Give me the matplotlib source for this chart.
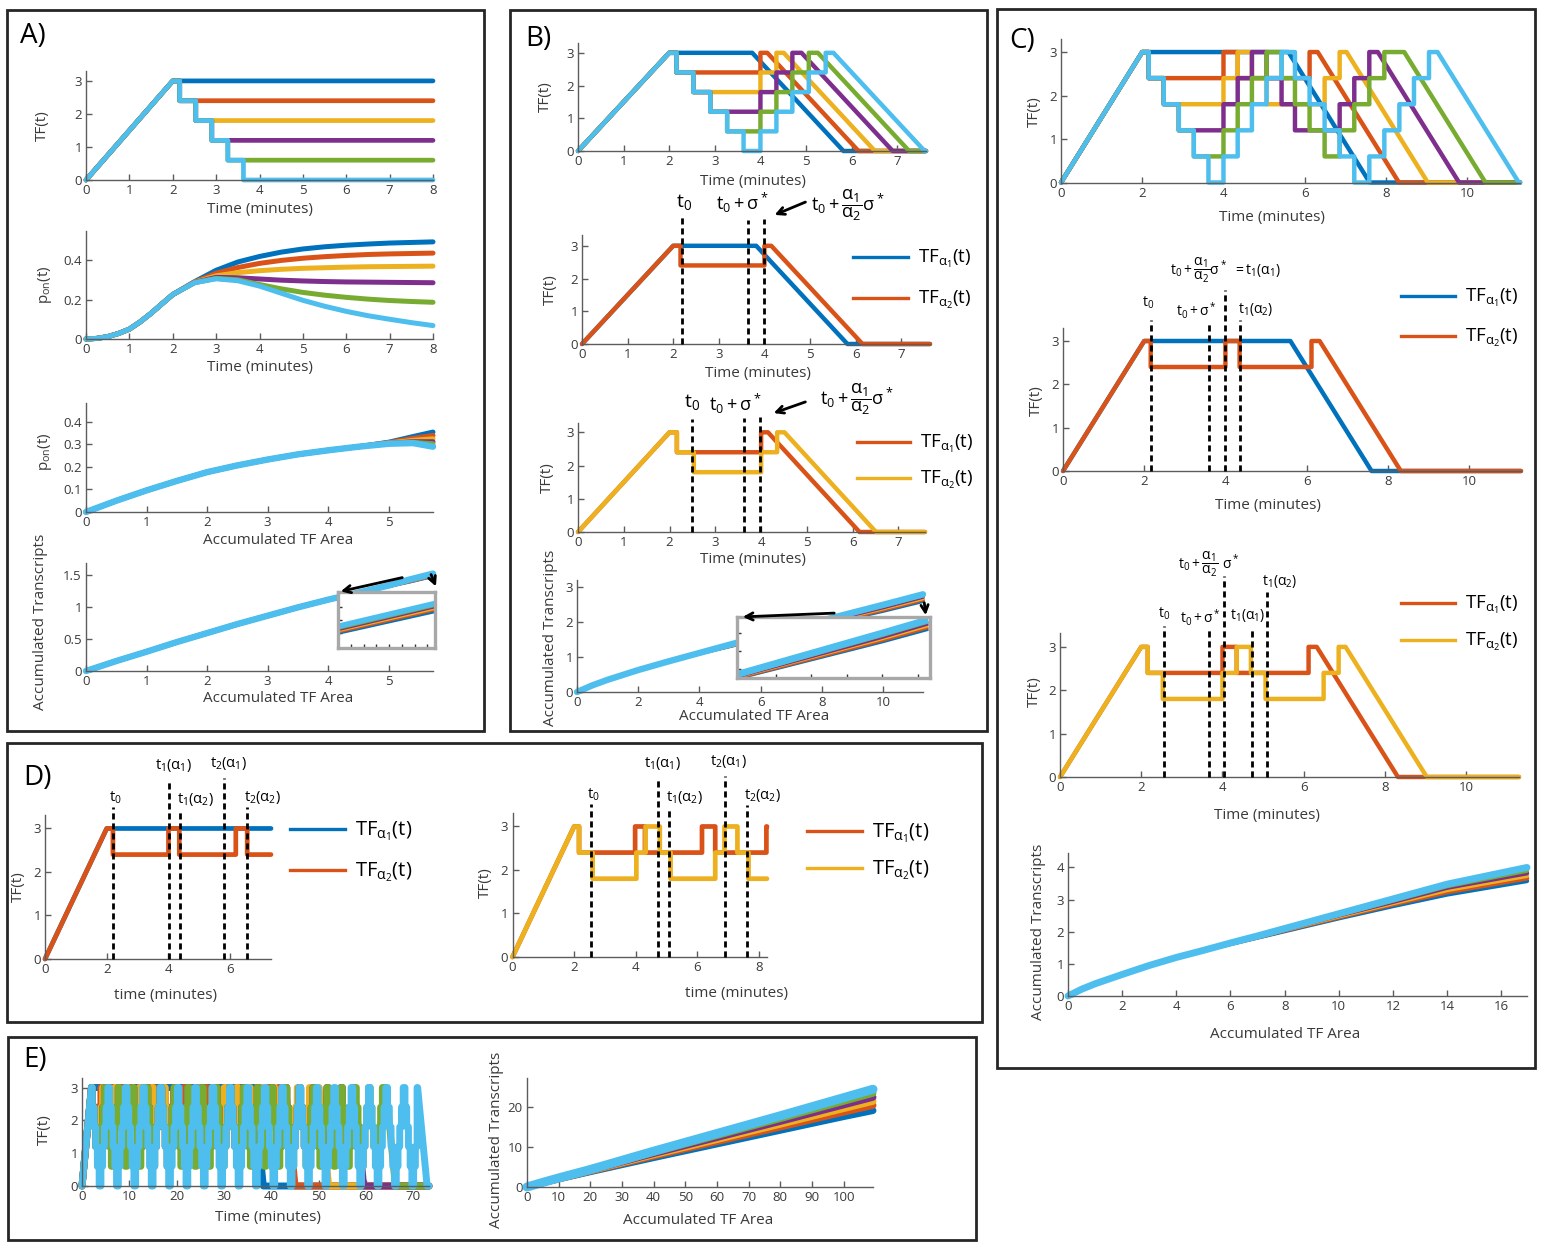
import matplotlib.pyplot as plt
from matplotlib.lines import Line2D
from matplotlib.patches import Rectangle, FancyArrowPatch
from matplotlib.ticker import FuncFormatter

plt.rcParams['font.family'] = ['Open Sans', 'DejaVu Sans']
plt.rcParams['mathtext.default'] = 'regular'

W, H = 1546, 1243
BLUE, ORANGE, YELLOW, PURPLE, GREEN, LBLUE = '#0072BD', '#D95319', '#EDB120', '#7E2F8E', '#77AC30', '#4DBEEE'
COLORS = [BLUE, ORANGE, YELLOW, PURPLE, GREEN, LBLUE]
AXC = '#5c5c5c'
TXT = '#3a3a3a'

# ---------------- data ----------------
# staircase drop times (min) and levels used by the step-down protocol
DROPS = [2.16, 2.53, 2.90, 3.27, 3.63]
LEVELS = [2.4, 1.8, 1.2, 0.6, 0.0]

# A: p_on over time
A_T = [0, 0.25, 0.5, 0.75, 1, 1.25, 1.5, 1.75, 2, 2.5, 3, 3.5, 4, 4.5, 5, 5.5, 6, 6.5, 7, 7.5, 8]
A_PON_START = [0, 0.003, 0.012, 0.028, 0.05, 0.087, 0.13, 0.178, 0.225]
A_PON = [
    [0.290, 0.348, 0.390, 0.418, 0.440, 0.456, 0.467, 0.475, 0.481, 0.486, 0.489, 0.492],
    [0.288, 0.333, 0.362, 0.383, 0.398, 0.409, 0.417, 0.423, 0.428, 0.431, 0.433, 0.435],
    [0.287, 0.320, 0.336, 0.346, 0.353, 0.358, 0.361, 0.364, 0.366, 0.367, 0.368, 0.369],
    [0.286, 0.312, 0.310, 0.304, 0.298, 0.294, 0.291, 0.289, 0.288, 0.287, 0.286, 0.285],
    [0.285, 0.307, 0.300, 0.276, 0.254, 0.236, 0.222, 0.211, 0.202, 0.195, 0.190, 0.186],
    [0.285, 0.305, 0.295, 0.268, 0.232, 0.196, 0.166, 0.140, 0.118, 0.100, 0.083, 0.068],
]

# A: p_on against accumulated TF area
A_AREA = [0, 0.5, 1, 1.5, 2, 2.5, 3, 3.5, 4, 4.5, 5, 5.4, 5.73]
A_PON_AREA_START = [0, 0.05, 0.096, 0.138, 0.177, 0.207, 0.233, 0.256, 0.274, 0.290]
A_PON_AREA_END = [
    [0.310, 0.335, 0.355],
    [0.308, 0.327, 0.340],
    [0.306, 0.318, 0.325],
    [0.305, 0.312, 0.312],
    [0.304, 0.309, 0.303],
    [0.303, 0.306, 0.290],
]

# A: accumulated transcripts against accumulated TF area
A_TR_AREA = [0, 0.5, 1, 1.5, 2, 2.5, 3, 3.5, 4, 4.5, 5, 5.35, 5.73]
A_TR_START = [0, 0.155, 0.30, 0.45, 0.59, 0.73, 0.86, 0.99, 1.11, 1.22, 1.33]
A_TR_END = [
    [1.400, 1.485],
    [1.405, 1.492],
    [1.410, 1.498],
    [1.414, 1.504],
    [1.419, 1.509],
    [1.425, 1.515],
]

# B: staircase down then up, then ramp off
B_JUMPS = [
    [],
    [2.16, 4.00],
    [2.16, 2.53, 4.00, 4.35],
    [2.16, 2.53, 2.90, 4.00, 4.35, 4.70],
    [2.16, 2.53, 2.90, 3.27, 4.00, 4.35, 4.70, 5.06],
    [2.16, 2.53, 2.90, 3.27, 3.63, 4.00, 4.35, 4.70, 5.06, 5.43],
]
B_LEVELS = [
    [],
    [2.4, 3.0],
    [2.4, 1.8, 2.4, 3.0],
    [2.4, 1.8, 1.2, 1.8, 2.4, 3.0],
    [2.4, 1.8, 1.2, 0.6, 1.2, 1.8, 2.4, 3.0],
    [2.4, 1.8, 1.2, 0.6, 0.0, 0.6, 1.2, 1.8, 2.4, 3.0],
]
B_RAMP = [3.82, 4.15, 4.51, 4.90, 5.26, 5.60]

B_TR_AREA = [0, 0.5, 1, 2, 3, 4, 6, 8, 10, 11.3]
B_TR = [
    [0, 0.19, 0.35, 0.63, 0.88, 1.10, 1.52, 1.92, 2.32, 2.60],
    [0, 0.19, 0.35, 0.63, 0.88, 1.10, 1.53, 1.94, 2.35, 2.64],
    [0, 0.19, 0.35, 0.63, 0.88, 1.11, 1.55, 1.97, 2.39, 2.68],
    [0, 0.19, 0.35, 0.63, 0.88, 1.11, 1.56, 1.99, 2.42, 2.72],
    [0, 0.19, 0.35, 0.63, 0.88, 1.12, 1.58, 2.02, 2.46, 2.76],
    [0, 0.19, 0.35, 0.63, 0.88, 1.12, 1.60, 2.05, 2.50, 2.80],
]

# C: two down/up cycles before the ramp
C_JUMPS = [
    [],
    [2.16, 4.00, 4.35, 6.12],
    [2.16, 2.53, 4.00, 4.35, 4.70, 5.06, 6.49, 6.86],
    [2.16, 2.53, 2.90, 4.00, 4.35, 4.70, 5.06, 5.43, 5.76, 6.86, 7.22, 7.59],
    [2.16, 2.53, 2.90, 3.27, 4.00, 4.35, 4.70, 5.06, 5.43, 5.76, 6.12, 6.49, 6.86, 7.22, 7.59, 7.96],
    [2.16, 2.53, 2.90, 3.27, 3.63, 4.00, 4.35, 4.70, 5.06, 5.43,
     5.76, 6.12, 6.49, 6.86, 7.22, 7.59, 7.96, 8.33, 8.69, 9.06],
]
C_LEVELS = [
    [],
    [2.4, 3.0, 2.4, 3.0],
    [2.4, 1.8, 2.4, 3.0, 2.4, 1.8, 2.4, 3.0],
    [2.4, 1.8, 1.2, 1.8, 2.4, 3.0, 2.4, 1.8, 1.2, 1.8, 2.4, 3.0],
    [2.4, 1.8, 1.2, 0.6, 1.2, 1.8, 2.4, 3.0, 2.4, 1.8, 1.2, 0.6, 1.2, 1.8, 2.4, 3.0],
    [2.4, 1.8, 1.2, 0.6, 0.0, 0.6, 1.2, 1.8, 2.4, 3.0,
     2.4, 1.8, 1.2, 0.6, 0.0, 0.6, 1.2, 1.8, 2.4, 3.0],
]
C_RAMP = [5.60, 6.32, 7.03, 7.80, 8.45, 9.27]

C_TR_AREA = [0, 0.5, 1, 2, 3, 4, 5, 6, 7, 8, 10, 12, 14, 16.95]
C_TR_START = [0, 0.21, 0.38, 0.67, 0.95, 1.20, 1.42]
C_TR_END = [
    [1.62, 1.82, 2.02, 2.42, 2.80, 3.16, 3.58],
    [1.63, 1.83, 2.04, 2.45, 2.85, 3.23, 3.66],
    [1.63, 1.84, 2.06, 2.48, 2.89, 3.30, 3.74],
    [1.64, 1.85, 2.07, 2.51, 2.93, 3.37, 3.82],
    [1.64, 1.86, 2.08, 2.53, 2.97, 3.42, 3.90],
    [1.65, 1.87, 2.10, 2.56, 3.02, 3.48, 4.00],
]

# D: repeated pulses, no ramp-off
D1_JUMPS = [[], [2.20, 4.00, 4.35, 6.18, 6.55]]
D1_LEVELS = [[], [2.4, 3.0, 2.4, 3.0, 2.4]]
D2_JUMPS = [[2.16, 3.98, 4.30, 6.15, 6.58, 8.24],
            [2.16, 2.60, 4.02, 4.32, 4.78, 5.13, 6.58, 6.88, 7.30, 7.66]]
D2_LEVELS = [[2.4, 3.0, 2.4, 3.0, 2.4, 3.0],
             [2.4, 1.8, 2.4, 3.0, 2.4, 1.8, 2.4, 3.0, 2.4, 1.8]]

# E: long repeated cycles (one cycle of levels per series) and ramp-off start
E_STEP = 0.367
E_CYCLES = [
    [3.0],
    [2.4, 2.4, 2.4, 2.4, 2.4, 3.0],
    [2.4, 1.8, 1.8, 1.8, 1.8, 2.4, 3.0],
    [2.4, 1.8, 1.2, 1.2, 1.2, 1.8, 2.4, 3.0],
    [2.4, 1.8, 1.2, 0.6, 1.2, 1.8, 2.4, 3.0],
    [2.4, 1.8, 1.2, 0.6, 0.0, 0.6, 1.2, 1.8, 2.4, 3.0],
]
E_RAMP = [36.3, 43.0, 50.1, 57.5, 64.2, 70.9]

E_TR_AREA = [0, 5, 10, 20, 40, 60, 80, 100, 109.3]
E_TR = [
    [0, 1.05, 2.00, 3.80, 7.3, 10.7, 14.1, 17.5, 19.0],
    [0, 1.07, 2.05, 3.95, 7.7, 11.3, 14.9, 18.6, 20.3],
    [0, 1.09, 2.10, 4.05, 8.0, 11.8, 15.6, 19.5, 21.3],
    [0, 1.11, 2.15, 4.15, 8.3, 12.3, 16.3, 20.4, 22.3],
    [0, 1.13, 2.20, 4.25, 8.6, 12.8, 17.0, 21.3, 23.3],
    [0, 1.15, 2.25, 4.35, 8.9, 13.3, 17.7, 22.2, 24.3],
]

# marker lines: positions and heights
B2_MARKS, B2_TOPS = [2.19, 3.65, 3.99], [3.98, 3.80, 3.83]
B3_MARKS, B3_TOPS = [2.49, 3.62, 3.98], [3.40, 3.43, 3.46]
C2_MARKS, C2_TOPS = [2.17, 3.60, 4.00, 4.37], [3.48, 3.40, 4.17, 3.49]
C3_MARKS, C3_TOPS = [2.56, 3.68, 4.04, 4.73, 5.09], [3.48, 3.41, 4.63, 3.44, 4.27]
D1_MARKS, D1_TOPS = [2.19, 4.01, 4.38, 5.81, 6.54], [3.50, 4.11, 3.42, 4.15, 3.50]
D2_MARKS, D2_TOPS = [2.54, 4.72, 5.08, 6.90, 7.62], [3.52, 4.13, 3.44, 4.17, 3.49]


def stair_trace(jumps, levels, ramp, t_max):
    t, y = [0.0, 2.0], [0.0, 3.0]
    for tj, lv in zip(jumps, levels):
        t += [tj, tj]
        y += [y[-1], lv]
    if ramp is None:
        t.append(t_max)
        y.append(y[-1])
    else:
        t += [ramp, ramp + 2.0, t_max]
        y += [3.0, 0.0, 0.0]
    return t, y


def cycle_trace(cycle, ramp, t_max):
    # repeat the cycle from the first drop until the ramp-off starts
    t, y = [0.0, 2.0], [0.0, 3.0]
    tk, i, n = DROPS[0], 0, len(cycle)
    while tk + E_STEP <= ramp:
        lv = cycle[i % n]
        t += [tk, tk, tk + E_STEP]
        y += [y[-1], lv, lv]
        tk += E_STEP
        i += 1
    t += [tk, tk, ramp, ramp + 2.0, t_max]
    y += [y[-1], 3.0, 3.0, 0.0, 0.0]
    return t, y


# ---------------- figure helpers ----------------
fig = plt.figure(figsize=(W / 100, H / 100), dpi=100)
fmt = FuncFormatter(lambda v, _: f'{v:g}')


def fx(x):
    return x / W


def fy(y):
    return 1 - y / H


def place(box, xlim, ylim, xticks, yticks, size=9.5):
    l, t, r, b = box
    ax = fig.add_axes([fx(l), fy(b), (r - l) / W, (b - t) / H])
    ax.set_xlim(xlim)
    ax.set_ylim(ylim)
    ax.set_xticks(xticks)
    ax.set_yticks(yticks)
    ax.xaxis.set_major_formatter(fmt)
    ax.yaxis.set_major_formatter(fmt)
    for s in ('top', 'right'):
        ax.spines[s].set_visible(False)
    for s in ('left', 'bottom'):
        ax.spines[s].set_color(AXC)
        ax.spines[s].set_linewidth(1.0)
    ax.tick_params(direction='in', length=4, width=1, color=AXC, labelcolor=TXT, labelsize=size, pad=3)
    ax.patch.set_visible(False)
    return ax


def labels(ax, box, xl, xl_y, yl, yl_x, xl_x=None, yl_y=None, size=11):
    l, t, r, b = box
    ax.set_xlabel(xl, fontsize=size, color=TXT, va='center')
    ax.xaxis.set_label_coords(((xl_x or (l + r) / 2) - l) / (r - l), (b - xl_y) / (b - t))
    ax.set_ylabel(yl, fontsize=size, color=TXT, va='center', ha='center')
    ax.yaxis.set_label_coords((yl_x - l) / (r - l), (b - (yl_y or (t + b) / 2)) / (b - t))


def ptext(x, y, s, size=11, ha='center', va='center', color='k'):
    fig.text(fx(x), fy(y), s, fontsize=size, ha=ha, va=va, color=color)


def arrow(x0, y0, x1, y1):
    fig.add_artist(FancyArrowPatch((fx(x0), fy(y0)), (fx(x1), fy(y1)), transform=fig.transFigure,
                                   arrowstyle='->', mutation_scale=13, lw=2, color='k'))


def legend(x0, x1, ys, colors, size=13.5):
    for y, c, lab in zip(ys, colors, [r'$TF_{\alpha_1}(t)$', r'$TF_{\alpha_2}(t)$']):
        fig.add_artist(Line2D([fx(x0), fx(x1)], [fy(y), fy(y)], transform=fig.transFigure, color=c, lw=2.4))
        ptext(x1 + 10, y + 6, lab, size=size, ha='left', va='baseline')


def marks(ax, xs, tops):
    for x, top in zip(xs, tops):
        ax.plot([x, x], [0, top], color='k', lw=2, ls=(0, (2.2, 1.4)), clip_on=False, zorder=5)


def panel(l, t, r, b, letter, lx, ly):
    fig.add_artist(Rectangle((fx(l), fy(b)), (r - l) / W, (b - t) / H, transform=fig.transFigure,
                             fill=False, lw=2, ec='#262626'))
    ptext(lx, ly, letter, size=20, ha='left')


def inset(box, xlim, ylim, xticks, yticks):
    l, t, r, b = box
    ax = fig.add_axes([fx(l), fy(b), (r - l) / W, (b - t) / H])
    ax.set_xlim(xlim)
    ax.set_ylim(ylim)
    ax.set_xticks(xticks)
    ax.set_yticks(yticks)
    ax.set_xticklabels([])
    ax.set_yticklabels([])
    for s in ax.spines.values():
        s.set_color('#a8a8a8')
        s.set_linewidth(2.4)
    ax.tick_params(direction='in', length=3, width=1, color='#333333')
    return ax


TR = dict(solid_joinstyle='round', solid_capstyle='round', clip_on=False)
SIG = r'$t_0\,{+}\,\sigma^*$'
FRAC = r'$t_0\,{+}\,\dfrac{\alpha_1}{\alpha_2}\sigma^*$'

# ---------------- panel A ----------------
panel(7, 10, 484, 731, 'A)', 20, 36)

box = (86, 71, 433, 180)
ax = place(box, (0, 8), (0, 3.3), range(9), [0, 1, 2, 3])
for k, c in enumerate(COLORS):
    ax.plot(*stair_trace(DROPS[:k], LEVELS[:k], None, 8), color=c, lw=3.4, **TR)
labels(ax, box, 'Time (minutes)', 210, 'TF(t)', 42)

box = (86, 231, 433, 339)
ax = place(box, (0, 8), (0, 0.547), range(9), [0, 0.2, 0.4])
for vals, c in zip(A_PON, COLORS):
    ax.plot(A_T, A_PON_START + vals, color=c, lw=3.6, **TR)
labels(ax, box, 'Time (minutes)', 368, r'$p_{on}(t)$', 45)

box = (86, 403, 433, 512)
ax = place(box, (0, 5.73), (0, 0.484), range(6), [0, 0.1, 0.2, 0.3, 0.4])
for k, (vals, c) in enumerate(zip(A_PON_AREA_END, COLORS)):
    ax.plot(A_AREA, A_PON_AREA_START + vals, color=c, lw=4.6 if k == 5 else 3.6, **TR)
labels(ax, box, 'Accumulated TF Area', 541, r'$p_{on}(t)$', 45, xl_x=278, yl_y=452)

box = (86, 563, 433, 671)
ax = place(box, (0, 5.73), (0, 1.68), range(6), [0, 0.5, 1, 1.5])
ins = inset((338, 592, 435, 648), (5.35, 5.73), (1.34, 1.56),
            [5.4, 5.45, 5.5, 5.55, 5.6, 5.65, 5.7], [1.4, 1.45, 1.5])
for k, (vals, c) in enumerate(zip(A_TR_END, COLORS)):
    ax.plot(A_TR_AREA, A_TR_START + vals, color=c, lw=4.6 if k == 5 else 3.6, **TR)
    ins.plot(A_TR_AREA, A_TR_START + vals, color=c, lw=4 if k == 5 else 3,
             solid_capstyle='butt')
labels(ax, box, 'Accumulated TF Area', 699, 'Accumulated Transcripts', 41, xl_x=278, yl_y=622)
arrow(405, 577, 338, 592)
arrow(430, 572, 437, 589)

# ---------------- panel B ----------------
panel(510, 10, 987, 731, 'B)', 525, 39)

box = (578, 43, 926, 151)
ax = place(box, (0, 7.63), (0, 3.3), range(8), [0, 1, 2, 3])
for k, c in enumerate(COLORS):
    ax.plot(*stair_trace(B_JUMPS[k], B_LEVELS[k], B_RAMP[k], 7.63), color=c, lw=3.2, **TR)
labels(ax, box, 'Time (minutes)', 182, 'TF(t)', 545, xl_x=753)

box = (582, 235, 930, 344)
ax = place(box, (0, 7.63), (0, 3.33), range(8), [0, 1, 2, 3])
for k in (0, 1):
    ax.plot(*stair_trace(B_JUMPS[k], B_LEVELS[k], B_RAMP[k], 7.63), color=COLORS[k], lw=3.2, **TR)
marks(ax, B2_MARKS, B2_TOPS)
labels(ax, box, 'Time (minutes)', 373, 'TF(t)', 550, xl_x=758)
ptext(684, 202, r'$t_0$', 14)
ptext(742, 203, SIG, 13)
ptext(848, 205, FRAC, 13)
arrow(808, 201, 772, 216)
legend(853, 908, [257, 298], [BLUE, ORANGE])

box = (578, 423, 925, 532)
ax = place(box, (0, 7.58), (0, 3.28), range(8), [0, 1, 2, 3])
for k in (1, 2):
    ax.plot(*stair_trace(B_JUMPS[k], B_LEVELS[k], B_RAMP[k], 7.58), color=COLORS[k], lw=3.2, **TR)
marks(ax, B3_MARKS, B3_TOPS)
labels(ax, box, 'Time (minutes)', 560, 'TF(t)', 547, xl_x=753)
ptext(692, 402, r'$t_0$', 14)
ptext(735, 404, SIG, 13)
ptext(857, 399, FRAC, 13)
arrow(808, 401, 771, 414)
legend(857, 910, [442, 478], [ORANGE, YELLOW])

box = (577, 580, 923, 692)
ax = place(box, (0, 11.3), (0, 3.21), [0, 2, 4, 6, 8, 10], [0, 1, 2, 3])
ins = inset((737, 617, 930, 678), (5.9, 11.35), (1.5, 2.86), [6, 7, 8, 9, 10, 11], [1.7, 2.1, 2.5])
for k, (vals, c) in enumerate(zip(B_TR, COLORS)):
    ax.plot(B_TR_AREA, vals, color=c, lw=4.6 if k == 5 else 2.6, **TR)
    ins.plot(B_TR_AREA, vals, color=c, lw=5 if k == 5 else 3.2, solid_capstyle='butt')
labels(ax, box, 'Accumulated TF Area', 717, 'Accumulated Transcripts', 550, xl_x=754, yl_y=638)
arrow(837, 613, 740, 617)
arrow(924, 600, 926, 618)

# ---------------- panel C ----------------
panel(997, 9, 1535, 1068, 'C)', 1009, 41)

box = (1061, 39, 1520, 182.5)
ax = place(box, (0, 11.3), (0, 3.3), [0, 2, 4, 6, 8, 10], [0, 1, 2, 3])
for k, c in enumerate(COLORS):
    ax.plot(*stair_trace(C_JUMPS[k], C_LEVELS[k], C_RAMP[k], 11.3), color=c, lw=3.2, **TR)
labels(ax, box, 'Time (minutes)', 218, 'TF(t)', 1034, xl_x=1272, yl_y=112)

box = (1063, 328, 1521, 471)
ax = place(box, (0, 11.28), (0, 3.3), [0, 2, 4, 6, 8, 10], [0, 1, 2, 3])
for k in (0, 1):
    ax.plot(*stair_trace(C_JUMPS[k], C_LEVELS[k], C_RAMP[k], 11.28), color=COLORS[k], lw=3.2, **TR)
marks(ax, C2_MARKS, C2_TOPS)
labels(ax, box, 'Time (minutes)', 506, 'TF(t)', 1036, xl_x=1268, yl_y=401)
ptext(1148, 303, r'$t_0$', 10)
ptext(1196, 311, SIG, 10)
ptext(1226, 270, r'$t_0\,{+}\,\dfrac{\alpha_1}{\alpha_2}\sigma^*\ =t_1(\alpha_1)$', 10)
ptext(1256, 310, r'$t_1(\alpha_2)$', 10)
legend(1401, 1455, [296, 336], [BLUE, ORANGE])

box = (1060, 633, 1519, 777)
ax = place(box, (0, 11.3), (0, 3.32), [0, 2, 4, 6, 8, 10], [0, 1, 2, 3])
for k in (1, 2):
    ax.plot(*stair_trace(C_JUMPS[k], C_LEVELS[k], C_RAMP[k], 11.3), color=COLORS[k], lw=3.2, **TR)
marks(ax, C3_MARKS, C3_TOPS)
labels(ax, box, 'Time (minutes)', 815, 'TF(t)', 1034, xl_x=1267, yl_y=692)
ptext(1164, 614, r'$t_0$', 10)
ptext(1200, 618, SIG, 10)
ptext(1209, 564, r'$t_0\,{+}\,\dfrac{\alpha_1}{\alpha_2}\ \sigma^*$', 10)
ptext(1248, 615, r'$t_1(\alpha_1)$', 10)
ptext(1280, 581, r'$t_1(\alpha_2)$', 10)
legend(1401, 1455, [603, 640], [ORANGE, YELLOW])

box = (1068, 853, 1527, 996)
ax = place(box, (0, 16.95), (0, 4.45), [0, 2, 4, 6, 8, 10, 12, 14, 16], [0, 1, 2, 3, 4])
for k, (vals, c) in enumerate(zip(C_TR_END, COLORS)):
    ax.plot(C_TR_AREA, C_TR_START + vals, color=c, lw=5 if k == 5 else 3.2, **TR)
labels(ax, box, 'Accumulated TF Area', 1034, 'Accumulated Transcripts', 1039, xl_x=1285, yl_y=932)

# ---------------- panel D ----------------
panel(7, 743, 982, 1022, 'D)', 23, 778)

box = (45, 815, 271, 959)
ax = place(box, (0, 7.32), (0, 3.31), [0, 2, 4, 6], [0, 1, 2, 3])
for k in (0, 1):
    ax.plot(*stair_trace(D1_JUMPS[k], D1_LEVELS[k], None, 7.32), color=COLORS[k], lw=3.4, **TR)
marks(ax, D1_MARKS, D1_TOPS)
labels(ax, box, 'time (minutes)', 996, 'TF(t)', 18, xl_x=165, yl_y=887)
for x, y, s in [(115, 798, r'$t_0$'), (173, 766, r'$t_1(\alpha_1)$'), (195, 800, r'$t_1(\alpha_2)$'),
                (228, 763, r'$t_2(\alpha_1)$'), (262, 798, r'$t_2(\alpha_2)$')]:
    ptext(x, y, s, 10.5)
legend(290, 345, [829, 870], [BLUE, ORANGE], size=14.5)

box = (512.5, 813, 767, 957)
ax = place(box, (0, 8.26), (0, 3.31), [0, 2, 4, 6, 8], [0, 1, 2, 3])
for k in (0, 1):
    ax.plot(*stair_trace(D2_JUMPS[k], D2_LEVELS[k], None, 8.26), color=COLORS[k + 1], lw=3.4, **TR)
marks(ax, D2_MARKS, D2_TOPS)
labels(ax, box, 'time (minutes)', 994, 'TF(t)', 485, xl_x=737, yl_y=883)
for x, y, s in [(593, 795, r'$t_0$'), (662, 763, r'$t_1(\alpha_1)$'), (684, 797, r'$t_1(\alpha_2)$'),
                (728, 762, r'$t_2(\alpha_1)$'), (762, 796, r'$t_2(\alpha_2)$')]:
    ptext(x, y, s, 10.5)
legend(807, 862, [831, 868], [ORANGE, YELLOW], size=14.5)

# ---------------- panel E ----------------
panel(8, 1037, 976, 1240, 'E)', 23, 1060)

box = (82, 1078, 429, 1186)
ax = place(box, (0, 73.3), (0, 3.29), range(0, 71, 10), [0, 1, 2, 3])
for k, c in enumerate(COLORS):
    ax.plot(*cycle_trace(E_CYCLES[k], E_RAMP[k], 73.3), color=c, lw=5, **TR)
labels(ax, box, 'Time (minutes)', 1217, 'TF(t)', 44, xl_x=268, yl_y=1130)

box = (527, 1078, 873, 1187)
ax = place(box, (0, 109.3), (0, 27.1), range(0, 101, 10), [0, 10, 20])
for k, (vals, c) in enumerate(zip(E_TR, COLORS)):
    ax.plot(E_TR_AREA, vals, color=c, lw=6.5 if k == 5 else 5, **TR)
labels(ax, box, 'Accumulated TF Area', 1220, 'Accumulated Transcripts', 496, xl_x=698, yl_y=1140)

fig.savefig('out.png', dpi=100)
